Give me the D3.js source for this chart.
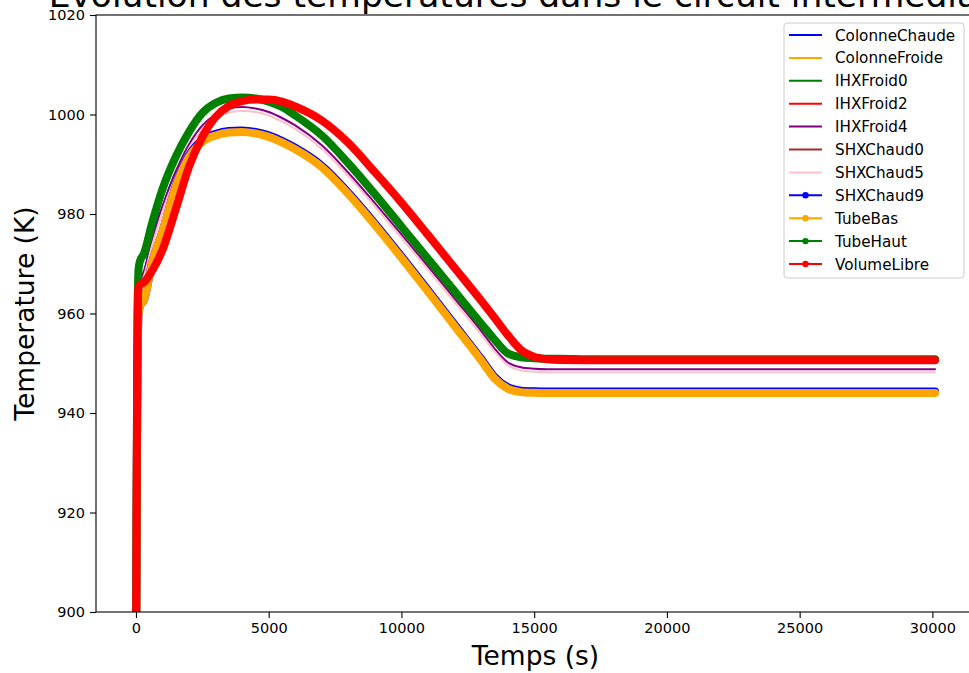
<!DOCTYPE html>
<html>
<head>
<meta charset="utf-8">
<script src="https://cdn.jsdelivr.net/npm/d3@7"></script>
<style>
  body { margin: 0; background: #fff; }
  svg { display: block; font-family: "DejaVu Sans", sans-serif; }
</style>
</head>
<body>
<div id="chart"></div>
<script>
// temps (s)
const temps = [0, 20, 40, 60, 80, 100, 150, 300, 600, 1000, 1500, 2000, 2500, 3000, 3500, 4000, 4500, 5000, 5500, 6000,
  7000, 8000, 9000, 10000, 11000, 12000, 13000, 13500, 14000, 14500, 15000, 15500, 16000, 17000, 20000, 25000, 30100];

// temperatures (K)
const colonneChaude = [885, 912, 936, 952, 960, 963.5, 965.5, 968, 975.5, 981.5, 988.5, 993, 995.5, 996.7, 997.2, 997.3, 997.0, 996.3, 995.2, 993.8,
  990.2, 984.8, 978.6, 972.0, 965.2, 958.3, 951.4, 947.8, 945.6, 945.0, 944.85, 944.8, 944.8, 944.8, 944.8, 944.8, 944.8];
const colonneFroide = [885, 910, 935, 950, 957, 960, 961.5, 962.7, 970, 976.5, 985.5, 991.5, 994.5, 995.8, 996.4, 996.5, 996.2, 995.5, 994.4, 993.0,
  989.4, 984.0, 977.8, 971.2, 964.4, 957.5, 950.6, 947.0, 944.9, 944.2, 944.05, 944.0, 944.0, 944.0, 944.0, 944.0, 944.0];
const ihxFroid0 = [885, 915, 940, 958, 966, 969, 970.5, 972, 978, 985, 991.5, 996.5, 1000.3, 1002.3, 1003.2, 1003.4, 1003.2, 1002.6, 1001.5, 999.8,
  995.8, 990.2, 984.0, 977.5, 971.0, 964.5, 958.0, 954.8, 952.0, 951.2, 951.0, 950.9, 950.9, 950.8, 950.8, 950.8, 950.8];
const ihxFroid2 = [885, 915, 942, 960, 964.5, 965.3, 965.8, 966.3, 968.5, 972.8, 981, 989.5, 995.5, 999.5, 1001.7, 1002.7, 1003.0, 1003.0, 1002.6, 1001.6,
  998.8, 994.3, 988.4, 982.3, 975.8, 969.2, 962.6, 959.2, 955.7, 952.7, 951.3, 950.8, 950.65, 950.6, 950.6, 950.6, 950.6];
const ihxFroid4 = [885, 912, 938, 955, 962, 965, 966.5, 968.5, 974.5, 981.5, 988.5, 994, 997.8, 1000.0, 1001.2, 1001.5, 1001.2, 1000.5, 999.3, 997.8,
  993.8, 988.3, 982.2, 975.9, 969.5, 963.0, 956.5, 953.0, 950.2, 949.2, 948.9, 948.8, 948.8, 948.8, 948.8, 948.8, 948.8];
const shxChaud0 = [885, 915, 940, 958, 966, 969, 970.5, 972, 978, 985, 991.5, 996.5, 1000.3, 1002.3, 1003.2, 1003.4, 1003.2, 1002.6, 1001.5, 999.8,
  995.8, 990.2, 984.0, 977.5, 971.0, 964.5, 958.0, 954.8, 952.0, 951.2, 951.0, 950.9, 950.9, 950.8, 950.8, 950.8, 950.8];
const shxChaud5 = [885, 912, 937, 954, 961, 964, 965.5, 967.5, 973.5, 980.5, 987.5, 993.2, 997.0, 999.3, 1000.4, 1000.7, 1000.5, 999.8, 998.6, 997.1,
  993.1, 987.6, 981.5, 975.2, 968.8, 962.3, 955.8, 952.4, 949.6, 948.6, 948.3, 948.2, 948.2, 948.2, 948.2, 948.2, 948.2];
const shxChaud9 = [885, 910, 935, 950, 957, 960, 961.5, 962.7, 970, 976.5, 985.6, 991.8, 994.8, 996.1, 996.7, 996.8, 996.5, 995.8, 994.7, 993.3,
  989.7, 984.3, 978.1, 971.5, 964.7, 957.8, 950.9, 947.3, 945.2, 944.5, 944.35, 944.3, 944.3, 944.3, 944.3, 944.3, 944.3];
const tubeBas = [885, 910, 935, 950, 957, 960, 961.5, 962.7, 970, 976.5, 985.5, 991.5, 994.5, 995.8, 996.4, 996.5, 996.2, 995.5, 994.4, 993.0,
  989.4, 984.0, 977.8, 971.2, 964.4, 957.5, 950.6, 947.0, 944.9, 944.2, 944.05, 944.0, 944.0, 944.0, 944.0, 944.0, 944.0];
const tubeHaut = [885, 915, 940, 958, 966, 969, 970.5, 972, 978, 985, 991.5, 996.5, 1000.3, 1002.3, 1003.2, 1003.4, 1003.2, 1002.6, 1001.5, 999.8,
  995.8, 990.2, 984.0, 977.5, 971.0, 964.5, 958.0, 954.8, 952.0, 951.2, 951.0, 950.9, 950.9, 950.8, 950.8, 950.8, 950.8];
const volumeLibre = [885, 915, 942, 960, 964.5, 965.3, 965.8, 966.3, 968.5, 972.8, 981, 989.5, 995.5, 999.5, 1001.7, 1002.7, 1003.0, 1003.0, 1002.6, 1001.6,
  998.8, 994.3, 988.4, 982.3, 975.8, 969.2, 962.6, 959.2, 955.7, 952.7, 951.3, 950.8, 950.65, 950.6, 950.6, 950.6, 950.6];

const noms = ["ColonneChaude", "ColonneFroide", "IHXFroid0", "IHXFroid2", "IHXFroid4", "SHXChaud0", "SHXChaud5",
  "SHXChaud9", "TubeBas", "TubeHaut", "VolumeLibre"];
const valeurs = [colonneChaude, colonneFroide, ihxFroid0, ihxFroid2, ihxFroid4, shxChaud0, shxChaud5,
  shxChaud9, tubeBas, tubeHaut, volumeLibre];
const couleurs = ["blue", "orange", "green", "red", "purple", "brown", "pink", "blue", "orange", "green", "red"];
const marqueurs = [false, false, false, false, false, false, false, true, true, true, true];

const xTicks = [0, 5000, 10000, 15000, 20000, 25000, 30000];
const yTicks = [900, 920, 940, 960, 980, 1000, 1020];

const width = 969;
const height = 673;
const m = {left: 96, right: 975, top: 15, bottom: 612};

const svg = d3.select("#chart")
  .append("svg")
  .attr("width", width)
  .attr("height", height);

const x = d3.scaleLinear().domain([-1505, 31605]).range([m.left, m.right]);
const y = d3.scaleLinear().domain([900, 1020]).range([m.bottom, m.top]);

svg.append("defs").append("clipPath").attr("id", "clip")
  .append("rect")
  .attr("x", m.left).attr("y", m.top)
  .attr("width", m.right - m.left).attr("height", m.bottom - m.top);

const line = d3.line()
  .x(d => x(d[0]))
  .y(d => y(d[1]))
  .curve(d3.curveMonotoneX);

const plot = svg.append("g").attr("clip-path", "url(#clip)");

valeurs.forEach((vals, i) => {
  const pts = temps.map((t, j) => [t, vals[j]]);
  plot.append("path")
    .datum(pts)
    .attr("d", line)
    .attr("fill", "none")
    .attr("stroke", couleurs[i])
    .attr("stroke-width", marqueurs[i] ? 8 : 2)
    .attr("stroke-linejoin", "round")
    .attr("stroke-linecap", "round");
});

// axes
svg.append("g")
  .attr("transform", `translate(0,${m.bottom})`)
  .call(d3.axisBottom(x).tickValues(xTicks).tickSize(6).tickPadding(5).tickFormat(d3.format("d")))
  .call(g => g.select(".domain").remove());

svg.append("g")
  .attr("transform", `translate(${m.left},0)`)
  .call(d3.axisLeft(y).tickValues(yTicks).tickSize(6).tickPadding(5).tickFormat(d3.format("d")))
  .call(g => g.select(".domain").remove());

svg.selectAll(".tick text").attr("font-size", 14.5).attr("font-family", "DejaVu Sans").attr("fill", "#000");
svg.selectAll(".tick line").attr("stroke", "#000").attr("stroke-width", 1.1);

svg.append("rect")
  .attr("x", m.left).attr("y", m.top)
  .attr("width", m.right - m.left).attr("height", m.bottom - m.top)
  .attr("fill", "none").attr("stroke", "#000").attr("stroke-width", 1.1);

// titres
svg.append("text")
  .attr("x", (m.left + m.right) / 2).attr("y", 7)
  .attr("text-anchor", "middle")
  .attr("font-size", 34.5)
  .text("Évolution des températures dans le circuit intermédiaire");

svg.append("text")
  .attr("x", (m.left + m.right) / 2).attr("y", 665)
  .attr("text-anchor", "middle")
  .attr("font-size", 26.5)
  .text("Temps (s)");

svg.append("text")
  .attr("transform", `translate(34,${(m.top + m.bottom) / 2}) rotate(-90)`)
  .attr("text-anchor", "middle")
  .attr("font-size", 26.5)
  .text("Temperature (K)");

// légende
const leg = svg.append("g");
leg.append("rect")
  .attr("x", 784).attr("y", 23).attr("width", 180).attr("height", 255)
  .attr("rx", 3)
  .attr("fill", "#fff").attr("fill-opacity", 0.8)
  .attr("stroke", "#ccc");

noms.forEach((nom, i) => {
  const yy = 35 + i * 22.9;
  leg.append("line")
    .attr("x1", 789).attr("x2", 822).attr("y1", yy).attr("y2", yy)
    .attr("stroke", couleurs[i]).attr("stroke-width", 2);
  if (marqueurs[i]) {
    leg.append("circle").attr("cx", 805.5).attr("cy", yy).attr("r", 3.2).attr("fill", couleurs[i]);
  }
  leg.append("text")
    .attr("x", 835).attr("y", yy + 5.5)
    .attr("font-size", 15.2)
    .text(nom);
});
</script>
</body>
</html>
